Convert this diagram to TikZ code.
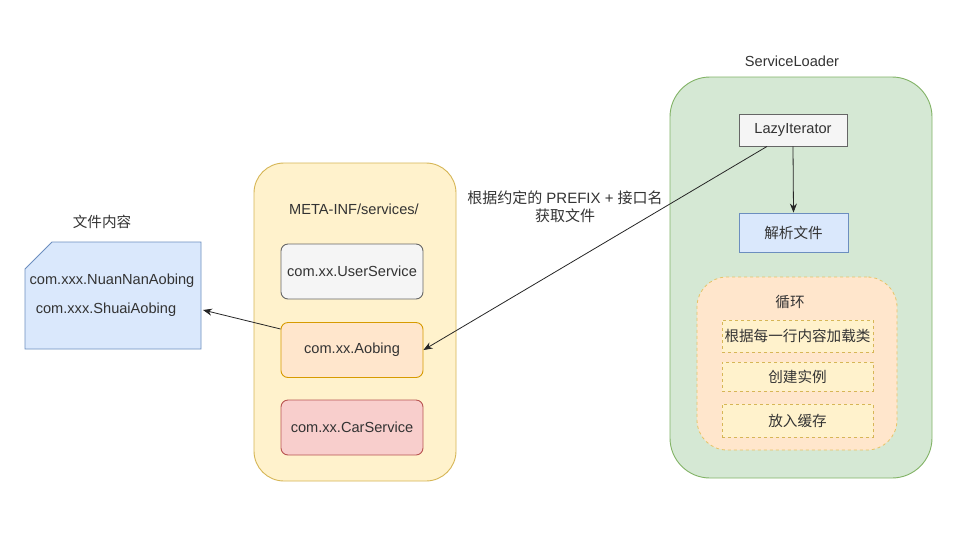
\documentclass[tikz,border=0pt]{standalone}
\usepackage{fontspec}
\setmainfont{Liberation Sans}
\newfontfamily\cjk{Noto Sans CJK SC}
\usetikzlibrary{arrows.meta,positioning}
\definecolor{bluefill}{HTML}{DAE8FC}
\definecolor{bluestroke}{HTML}{6C8EBF}
\definecolor{yelfill}{HTML}{FFF2CC}
\definecolor{yelstroke}{HTML}{D6B656}
\definecolor{grayfill}{HTML}{F5F5F5}
\definecolor{graystroke}{HTML}{666666}
\definecolor{orafill}{HTML}{FFE6CC}
\definecolor{orastroke}{HTML}{D79B00}
\definecolor{redfill}{HTML}{F8CECC}
\definecolor{redstroke}{HTML}{B85450}
\definecolor{grnfill}{HTML}{D5E8D4}
\definecolor{grnstroke}{HTML}{82B366}
\definecolor{txt}{HTML}{333333}
\tikzset{
  base/.style={font=\fontsize{14.6}{17}\selectfont, text=txt, inner sep=0pt},
  box/.style={base, draw, line width=0.9pt, minimum width=142, minimum height=55, rounded corners=7},
  dbox/.style={base, draw=yelstroke, fill=yelfill, dashed, line width=0.8pt, minimum width=151},
  lbl/.style={base},
  arr/.style={-{Stealth[length=9pt,width=7pt]}, line width=0.8pt, draw=black!85},
}
\begin{document}
\begin{tikzpicture}[x=1pt,y=-1pt]
\useasboundingbox[fill=white] (0,0) rectangle (975,550);

% file shape
\draw[fill=bluefill, draw=bluestroke, line width=0.9pt] (25,269) -- (52,242) -- (201,242) -- (201,349) -- (25,349) -- cycle;
\node[lbl] (filelbl) at (102,222) {\cjk 文件内容};
\node[lbl] (f1) at (112,281) {com.xxx.NuanNanAobing};
\node[lbl] (f2) at (106,310) {com.xxx.ShuaiAobing};
\coordinate (fileR) at (203,310);

% META-INF container
\node[base, draw=yelstroke, fill=yelfill, line width=0.9pt, rounded corners=30, minimum width=202, minimum height=318] (meta) at (355,322) {};
\node[lbl] (metalbl) at (354,209) {META-INF/services/};
\node[box, draw=graystroke, fill=grayfill] (user) at (352,271.5) {com.xx.UserService};
\node[box, draw=orastroke, fill=orafill] (aob) at (352,350) {com.xx.Aobing};
\node[box, draw=redstroke, fill=redfill] (car) at (352,427.5) {com.xx.CarService};

% ServiceLoader container
\node[base, draw=grnstroke, fill=grnfill, line width=0.9pt, rounded corners=40, minimum width=262, minimum height=401] (sl) at (801,277.5) {};
\node[lbl] (sllbl) at (792,61) {ServiceLoader};
\node[base, draw=graystroke, fill=grayfill, line width=0.9pt, minimum width=108, minimum height=32] (lazy) at (793,130) {LazyIterator};
\node[base, draw=bluestroke, fill=bluefill, line width=0.9pt, minimum width=109, minimum height=39] (parse) at (793.5,232.5) {\cjk 解析文件};

% loop container
\node[base, draw=orastroke!60, fill=orafill, dashed, line width=0.8pt, rounded corners=30, minimum width=200, minimum height=173] (loop) at (797,363.5) {};
\node[lbl] (looplbl) at (790,302) {\cjk 循环};
\node[dbox, minimum height=32] (s1) at (797.5,336) {\cjk 根据每一行内容加载类};
\node[dbox, minimum height=29] (s2) at (797.5,376.5) {\cjk 创建实例};
\node[dbox, minimum height=33] (s3) at (797.5,420.5) {\cjk 放入缓存};

% connectors
\draw[arr] (lazy.south) -- (parse.north);
\draw[arr] ([xshift=-26]lazy.south) -- (aob.east);
\draw[arr] ([yshift=21]aob.west) -- (fileR);

\node[lbl, align=center, font=\fontsize{15}{18}\selectfont] (note) at (565,207) {{\cjk 根据约定的} PREFIX + {\cjk 接口名}\\{\cjk 获取文件}};
\end{tikzpicture}
\end{document}
